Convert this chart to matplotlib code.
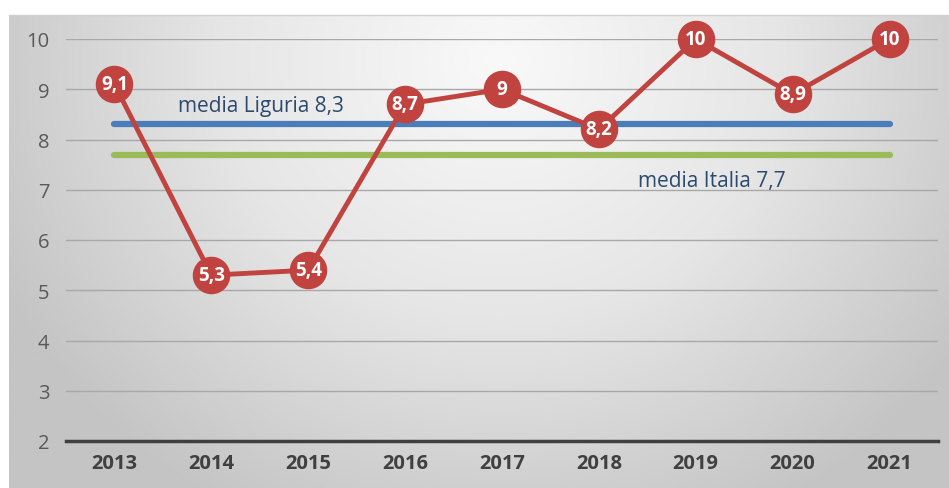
import numpy as np
import matplotlib.pyplot as plt
from matplotlib.colors import LinearSegmentedColormap

years = ["2013", "2014", "2015", "2016", "2017", "2018", "2019", "2020", "2021"]
values = [9.1, 5.3, 5.4, 8.7, 9.0, 8.2, 10.0, 8.9, 10.0]
value_labels = ["9,1", "5,3", "5,4", "8,7", "9", "8,2", "10", "8,9", "10"]
media_liguria = 8.3
media_italia = 7.7
liguria_label = "media Liguria 8,3"
italia_label = "media Italia 7,7"
y_ticks = [2, 3, 4, 5, 6, 7, 8, 9, 10]

W, H = 949, 489
fig = plt.figure(figsize=(W / 100, H / 100), dpi=100)
fig.patch.set_facecolor("white")

# radial grey gradient backdrop panel
bg = fig.add_axes([9 / W, 0, 1 - 9 / W, 1 - 16 / H], zorder=0)
nx, ny = 400, 200
xx, yy = np.meshgrid(np.linspace(9, W, nx), np.linspace(16, H, ny))
cx, cy = 500, 60
r = np.sqrt(((xx - cx) / 560) ** 2 + ((yy - cy) / 520) ** 2)
r = np.clip(r, 0, 1)
cmap = LinearSegmentedColormap.from_list("bg", ["#f9f9f9", "#e6e6e6", "#c4c4c4"])
bg.imshow(r, cmap=cmap, vmin=0, vmax=1, aspect="auto", extent=[0, 1, 0, 1],
          origin="upper", interpolation="bilinear")
bg.axis("off")
fig.add_artist(plt.Line2D([9 / W, 1], [1 - 16 / H, 1 - 16 / H],
                          transform=fig.transFigure, color="#cfcfcf", lw=1))

ax = fig.add_axes([66 / W, 1 - 442 / H, (938 - 66) / W, (442 - 40) / H], zorder=1)
ax.patch.set_alpha(0)
x = np.arange(len(years))
ax.set_xlim(-0.5, len(years) - 0.5)
ax.set_ylim(2, 10)

for t in y_ticks[1:]:
    ax.axhline(t, color="#a8a8a8", lw=1, zorder=1)
ax.axhline(2, color="#404040", lw=2.5, zorder=2, clip_on=False)

ax.plot([x[0], x[-1]], [media_liguria] * 2, color="#4a7ebb", lw=4.5,
        solid_capstyle="round", zorder=3)
ax.plot([x[0], x[-1]], [media_italia] * 2, color="#9bbb59", lw=4.5,
        solid_capstyle="round", zorder=3)

ax.plot(x, values, color="#c0433f", lw=3.5, marker="o", markersize=26,
        markerfacecolor="#c0433f", markeredgecolor="#c0433f", zorder=4,
        clip_on=False)
for xi, v, lab in zip(x, values, value_labels):
    ax.text(xi, v, lab, color="white", fontsize=13.5, fontweight="bold",
            ha="center", va="center", family="Open Sans", zorder=5)

ax.text(0.66, 8.67, liguria_label, color="#2c4a6e", fontsize=15,
        family="Open Sans", ha="left", va="center", zorder=5)
ax.text(5.4, 7.19, italia_label, color="#2c4a6e", fontsize=15,
        family="Open Sans", ha="left", va="center", zorder=5)

ax.set_xticks(x)
ax.set_xticklabels(years, fontsize=14.5, fontweight="bold", color="#404040",
                   family="Open Sans")
ax.set_yticks(y_ticks)
ax.set_yticklabels([str(t) for t in y_ticks], fontsize=14.5, color="#595959",
                   family="Open Sans")
ax.tick_params(axis="both", length=0)
ax.tick_params(axis="x", pad=9)
ax.tick_params(axis="y", pad=12)
for s in ax.spines.values():
    s.set_visible(False)

fig.savefig("out.png", dpi=100)
